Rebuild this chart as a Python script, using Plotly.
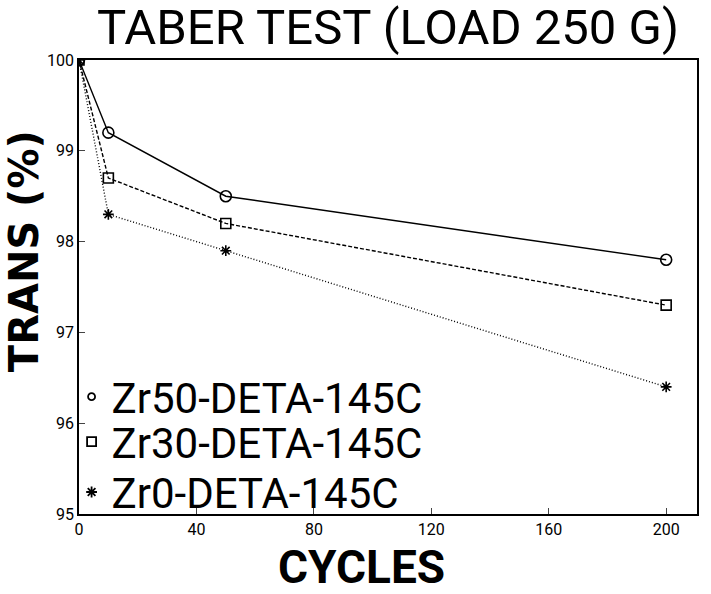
import plotly.graph_objects as go

cycles = [0, 10, 50, 200]
zr50 = [100, 99.2, 98.5, 97.8]
zr30 = [100, 98.7, 98.2, 97.3]
zr0 = [100, 98.3, 97.9, 96.4]
names = ["Zr50-DETA-145C", "Zr30-DETA-145C", "Zr0-DETA-145C"]
x_ticks = [0, 40, 80, 120, 160, 200]
y_ticks = [95, 96, 97, 98, 99, 100]

NARROW = "Roboto, Liberation Sans, sans-serif"

fig = go.Figure()
series = [
    (zr50, "solid", "circle-open", 11),
    (zr30, "4px,2px", "square-open", 10),
    (zr0, "1px,2px", "asterisk-open", 9),
]
for (vals, dash, sym, sz), nm in zip(series, names):
    fig.add_trace(go.Scatter(
        x=cycles, y=vals, mode="lines+markers", name=nm, showlegend=False,
        line=dict(color="black", width=1.4, dash=dash),
        marker=dict(symbol=sym, size=sz, color="black", line=dict(width=1.6, color="black")),
    ))

legend_syms = [("circle-open", 7), ("square-open", 9), ("asterisk-open", 9)]
legend_ids = ["legend", "legend2", "legend3"]
for (sym, sz), nm, lid in zip(legend_syms, names, legend_ids):
    fig.add_trace(go.Scatter(
        x=[None], y=[None], mode="markers", name=nm, legend=lid, showlegend=True,
        marker=dict(symbol=sym, size=sz, color="black", line=dict(width=1.8, color="black")),
    ))

leg_common = dict(xanchor="left", yanchor="middle", bgcolor="rgba(0,0,0,0)",
                  font=dict(family=NARROW, size=42, color="black"), borderwidth=0)
fig.update_layout(
    legend=dict(x=-0.012, y=0.258, **leg_common),
    legend2=dict(x=-0.012, y=0.159, **leg_common),
    legend3=dict(x=-0.012, y=0.048, **leg_common),
)

fig.update_layout(
    width=711, height=594,
    margin=dict(l=79, r=14, t=60, b=80),
    paper_bgcolor="white", plot_bgcolor="white",
    title=dict(text="TABER TEST (LOAD 250 G)", xref="paper", x=0.5, xanchor="center",
               yref="container", y=0.955, yanchor="middle",
               font=dict(family=NARROW, size=49, color="black")),
    xaxis=dict(range=[0, 210.5], tickvals=x_ticks, ticks="inside", ticklen=6,
               showline=True, linecolor="black", linewidth=1.5, mirror=True,
               showgrid=False, zeroline=False,
               tickfont=dict(family=NARROW, size=16, color="black")),
    yaxis=dict(range=[95, 100], tickvals=y_ticks, ticks="inside", ticklen=6,
               showline=True, linecolor="black", linewidth=1.5, mirror=True,
               showgrid=False, zeroline=False,
               tickfont=dict(family=NARROW, size=16, color="black")),
    annotations=[
        dict(text="<b>TRANS (%)</b>", xref="paper", yref="paper", x=-0.089, y=0.579,
             textangle=-90, showarrow=False, xanchor="center", yanchor="middle",
             font=dict(family="DejaVu Sans, sans-serif", size=40, color="black")),
        dict(text="<b>CYCLES</b>", xref="paper", yref="paper", x=0.457, y=-0.116,
             showarrow=False, xanchor="center", yanchor="middle",
             font=dict(family=NARROW, size=46, color="black")),
    ],
)

fig.write_html("out.html", config={"displayModeBar": False},
               post_script="document.body.style.margin='0';")
